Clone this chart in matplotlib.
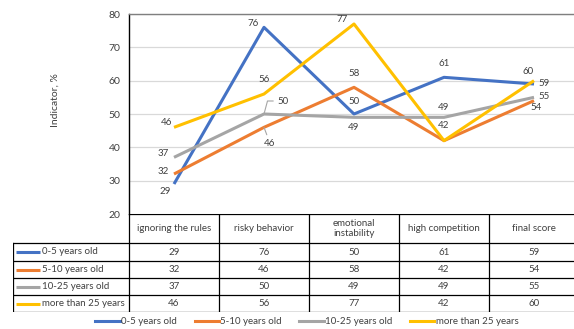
import matplotlib
import matplotlib.pyplot as plt

matplotlib.use("Agg")
plt.rcParams["font.family"] = ["Lato", "DejaVu Sans"]

categories = ["ignoring the rules", "risky behavior", "emotional\ninstability",
              "high competition", "final score"]
groups = ["0-5 years old", "5-10 years old", "10-25 years old", "more than 25 years"]
age_0_5 = [29, 76, 50, 61, 59]
age_5_10 = [32, 46, 58, 42, 54]
age_10_25 = [37, 50, 49, 49, 55]
age_25_plus = [46, 56, 77, 42, 60]
series = [age_0_5, age_5_10, age_10_25, age_25_plus]
y_ticks = [20, 30, 40, 50, 60, 70, 80]

colors = ["#4472C4", "#ED7D31", "#A5A5A5", "#FFC000"]
text_c = "#404040"

# label offsets in pixels (None = label not shown)
label_offsets = [
    [(-9, -7), (-11, 4), (0, 12), (0, 14), (10, 0)],
    [(-11, 3), (6, -16), (0, 14), (0, 15), (2, -7)],
    [(-11, 4), (19, 13), (0, -10), (0, 10), (10, 1)],
    [(-7, 5), (0, 15), (-12, 5), None, (-6, 9)],
]
# leader lines for labels pushed away from their point
leaders = {
    (2, 1): "angle,angleA=0,angleB=75",
    (1, 1): "arc3,rad=0",
}

W, H = 574, 329
fig = plt.figure(figsize=(W / 100, H / 100), dpi=100)

# main plot area, pixel box 129..579 x 14..214
ax = fig.add_axes([129 / W, 1 - 214 / H, 450 / W, 200 / H])
xs = list(range(len(categories)))
for k, (vals, col) in enumerate(zip(series, colors)):
    ax.plot(xs, vals, color=col, lw=2.2, solid_capstyle="butt", zorder=3 + k)
    for i, v in enumerate(vals):
        off = label_offsets[k][i]
        if off is None:
            continue
        arrow = None
        if (k, i) in leaders:
            arrow = dict(arrowstyle="-", color="#A5A5A5", lw=0.8,
                         shrinkA=1, shrinkB=0, connectionstyle=leaders[(k, i)])
        ax.annotate(str(v), xy=(i, v), xytext=off, textcoords="offset pixels",
                    ha="center", va="center", fontsize=7, color=text_c,
                    arrowprops=arrow, zorder=10)

ax.set_xlim(-0.5, len(categories) - 0.5)
ax.set_ylim(20, 80)
ax.set_yticks(y_ticks)
ax.tick_params(axis="y", length=0, pad=6, labelsize=7.5, labelcolor=text_c)
ax.set_xticks([])
ax.grid(axis="y", color="#D9D9D9", lw=0.9)
ax.set_axisbelow(True)
ax.spines["left"].set_color("black")
ax.spines["left"].set_linewidth(1.0)
ax.spines["top"].set_color("#7F7F7F")
ax.spines["top"].set_linewidth(1.0)
ax.spines["right"].set_visible(False)
ax.spines["bottom"].set_visible(False)

fig.text(55 / W, 1 - 100 / H, "Indicator, %", rotation=90, ha="center",
         va="center", fontsize=7.5, color=text_c)

# data table below the plot, pixel box 13..579 x 214..312
tab = fig.add_axes([13 / W, 1 - 312 / H, 566 / W, 98 / H])
left = -0.5 - 116 / 90
tab.set_xlim(left, len(categories) - 0.5)
tab.set_ylim(98, 0)
tab.axis("off")
row_edges = [0, 29, 47, 64, 81, 98]
kw = dict(color="black", lw=0.9, solid_capstyle="projecting")
for y in row_edges:
    x0 = -0.5 if y == 0 else left
    tab.plot([x0, len(categories) - 0.5], [y, y], **kw)
for i in range(len(categories) + 1):
    tab.plot([i - 0.5, i - 0.5], [0, 98], **kw)
tab.plot([left, left], [29, 98], **kw)

for i, cat in enumerate(categories):
    tab.text(i, 14.5, cat, ha="center", va="center", fontsize=7,
             color=text_c, linespacing=1.1)
for k, (name, vals, col) in enumerate(zip(groups, series, colors)):
    yc = (row_edges[k + 1] + row_edges[k + 2]) / 2
    tab.plot([left + 0.03, left + 0.3], [yc, yc], color=col, lw=2.2,
             solid_capstyle="butt")
    tab.text(left + 0.32, yc, name, ha="left", va="center", fontsize=7,
             color=text_c)
    for i, v in enumerate(vals):
        tab.text(i, yc, str(v), ha="center", va="center", fontsize=7,
                 color=text_c)

handles = [plt.Line2D([], [], color=c, lw=2.2) for c in colors]
fig.legend(handles, groups, loc="center", ncol=4, frameon=False,
           bbox_to_anchor=(307 / W, 1 - 322 / H), fontsize=7,
           handlelength=2.5, handletextpad=0.15, columnspacing=1.8,
           labelcolor=text_c)

plt.savefig("out.png", dpi=100)
plt.close(fig)
